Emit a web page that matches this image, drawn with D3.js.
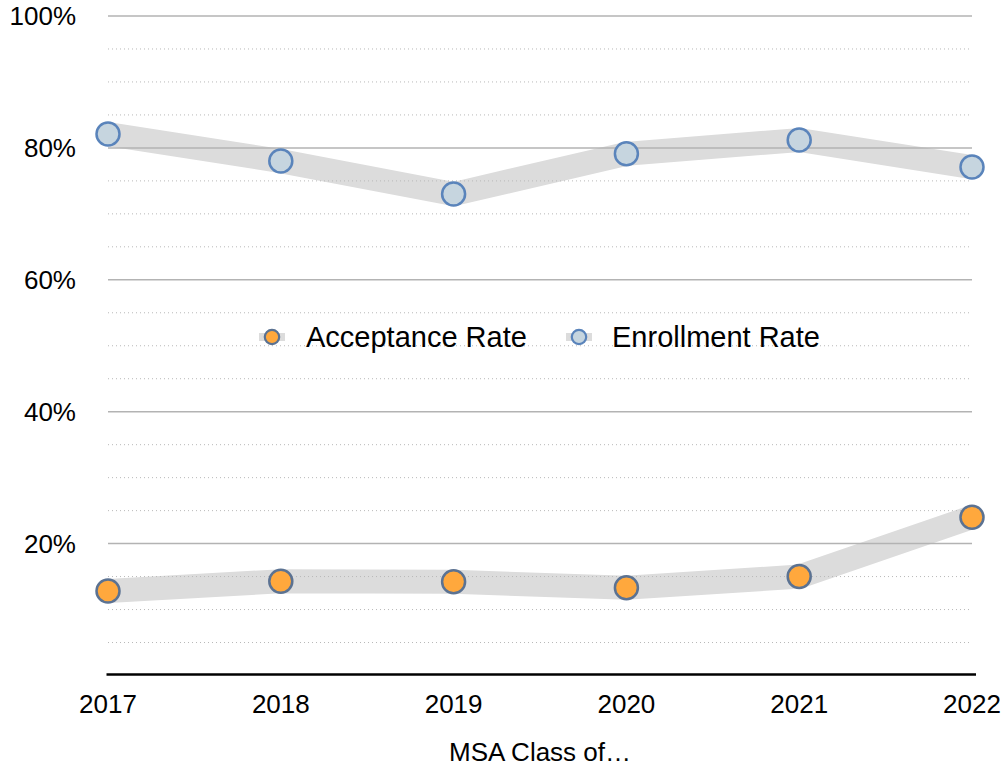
<!DOCTYPE html>
<html><head><meta charset="utf-8">
<script src="https://cdn.jsdelivr.net/npm/d3@7"></script>
<style>body{margin:0;background:#fff}svg{display:block}text{font-family:"Liberation Sans",Arial,Helvetica,sans-serif;fill:#000}</style>
</head><body>
<script>
const years = ["2017","2018","2019","2020","2021","2022"];
const acceptance = [12.8, 14.3, 14.2, 13.3, 15.0, 24.0];
const enrollment = [82.1, 78.0, 73.0, 79.1, 81.2, 77.1];
const majorTicks = [20, 40, 60, 80, 100];
const minorTicks = [5,10,15,25,30,35,45,50,55,65,70,75,85,90,95];
const seriesNames = ["Acceptance Rate","Enrollment Rate"];

const W=1007,H=767;
const svg=d3.select("body").append("svg").attr("width",W).attr("height",H);
const x=d3.scalePoint().domain(years).range([108,972]);
const y=d3.scaleLinear().domain([0,100]).range([675.5,16]);

const fills={acc:"#ffa83d",enr:"#c6d5df"};
const strokes={acc:"#5b7292",enr:"#5a84bb"};

// bands
const line=d3.line().x((d,i)=>x(years[i])).y(d=>y(d));
[acceptance,enrollment].forEach(s=>{
  svg.append("path").attr("d",line(s)).attr("fill","none").attr("stroke","#dcdcdc")
    .attr("stroke-width",24).attr("stroke-linejoin","miter");
});

// grid
svg.append("g").selectAll("line").data(minorTicks).join("line")
  .attr("x1",108).attr("x2",972).attr("y1",d=>y(d)).attr("y2",d=>y(d))
  .attr("stroke","#b8b8b8").attr("stroke-width",1).attr("stroke-dasharray","1,3");
svg.append("g").selectAll("line").data(majorTicks).join("line")
  .attr("x1",108).attr("x2",972).attr("y1",d=>y(d)).attr("y2",d=>y(d))
  .attr("stroke","#b3b3b3").attr("stroke-width",1.5);

// y labels
svg.append("g").selectAll("text").data(majorTicks).join("text")
  .attr("x",76).attr("y",d=>y(d)).attr("dy","0.36em").attr("text-anchor","end")
  .attr("font-size",26).text(d=>d+"%");

// x axis
svg.append("line").attr("x1",106.5).attr("x2",976).attr("y1",674.5).attr("y2",674.5)
  .attr("stroke","#000").attr("stroke-width",2.5);
svg.append("g").selectAll("text").data(years).join("text")
  .attr("x",d=>x(d)).attr("y",713).attr("text-anchor","middle").attr("font-size",26).text(d=>d);
svg.append("text").attr("x",540).attr("y",761).attr("text-anchor","middle").attr("font-size",26).text("MSA Class of…");

// points
[[acceptance,"acc"],[enrollment,"enr"]].forEach(([s,k])=>{
  svg.append("g").selectAll("circle").data(s).join("circle")
    .attr("cx",(d,i)=>x(years[i])).attr("cy",d=>y(d)).attr("r",11.5)
    .attr("fill",fills[k]).attr("stroke",strokes[k]).attr("stroke-width",2.5);
});

// legend
const leg=[{name:seriesNames[0],k:"acc",cx:272,tx:306},{name:seriesNames[1],k:"enr",cx:579,tx:612}];
const lg=svg.append("g");
leg.forEach(l=>{
  lg.append("line").attr("x1",l.cx-13).attr("x2",l.cx+13).attr("y1",337).attr("y2",337)
    .attr("stroke","#dcdcdc").attr("stroke-width",8);
  lg.append("circle").attr("cx",l.cx).attr("cy",337).attr("r",7.2)
    .attr("fill",fills[l.k]).attr("stroke",strokes[l.k]).attr("stroke-width",2.2);
  lg.append("text").attr("x",l.tx).attr("y",347).attr("font-size",29).text(l.name);
});
</script>
</body></html>
